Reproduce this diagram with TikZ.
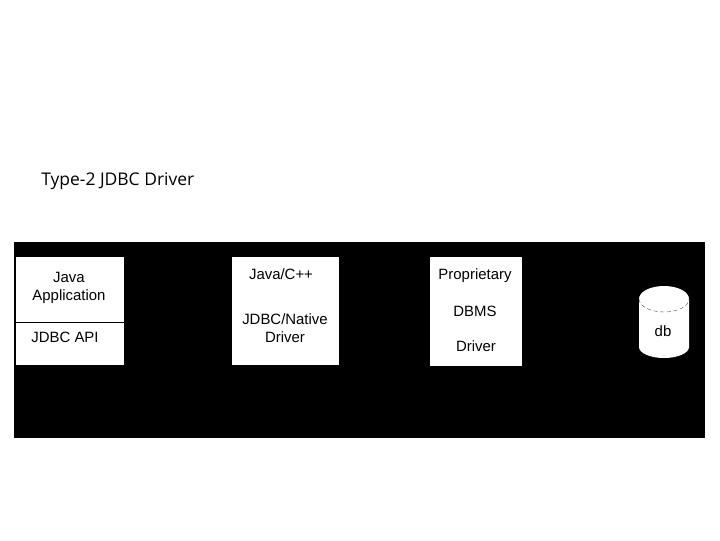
\documentclass[tikz,border=0pt]{standalone}
\usepackage{fontspec}
\setmainfont{Liberation Sans}
\newfontfamily\titlefont{Open Sans}
\tikzset{
 whitebox/.style={fill=white, inner sep=0pt},
 boxtext/.style={font=\fontsize{11.2pt}{13.5pt}\selectfont, inner sep=0pt, align=center},
}
\begin{document}
\begin{tikzpicture}[x=0.75pt,y=-0.75pt]
\useasboundingbox (0,0) rectangle (720,540);
 \node[anchor=west, inner sep=0pt, font=\titlefont\fontsize{13.1pt}{15pt}\selectfont] (title) at(41,181.5) {Type-2 JDBC Driver} ;
 \fill[black] (14,242) rectangle (705,438) ;
% boites
 \node[whitebox, minimum width=81pt, minimum height=81pt] (appbox) at(70,311) {} ;
 \node[whitebox, minimum width=80.25pt, minimum height=81pt] (nativebox) at(285.5,311) {} ;
 \node[whitebox, minimum width=69pt, minimum height=81.75pt] (dbmsbox) at(476,311.5) {} ;
 \draw[line width=0.6pt] (appbox.west |- 0,322) -- (appbox.east |- 0,322) ;
 \node[boxtext] (apptext) at(69,288) {Java\\Application} ;
 \node[boxtext] (apitext) at(65,337) {JDBC API} ;
 \node[boxtext] (javactext) at(281,274.5) {Java/C++} ;
 \node[boxtext] (nativetext) at(285,328) {JDBC/Native\\Driver} ;
 \node[boxtext] (proptext) at(475,275.5) {Proprietary} ;
 \node[boxtext] (dbmstext) at(475,311) {DBMS} ;
 \node[boxtext] (drivertext) at(476,346) {Driver} ;
% cylindre
 \fill[white] (639,299) arc[start angle=-180, end angle=0, x radius=25, y radius=13] -- (689,347) arc[start angle=0, end angle=180, x radius=25, y radius=11] -- cycle ;
 \draw[densely dashed, line width=0.3pt, black!70] (639,299) arc[start angle=180, end angle=0, x radius=25, y radius=13] ;
 \node[boxtext] (dbtext) at(663,331) {db} ;
\end{tikzpicture}
\end{document}
